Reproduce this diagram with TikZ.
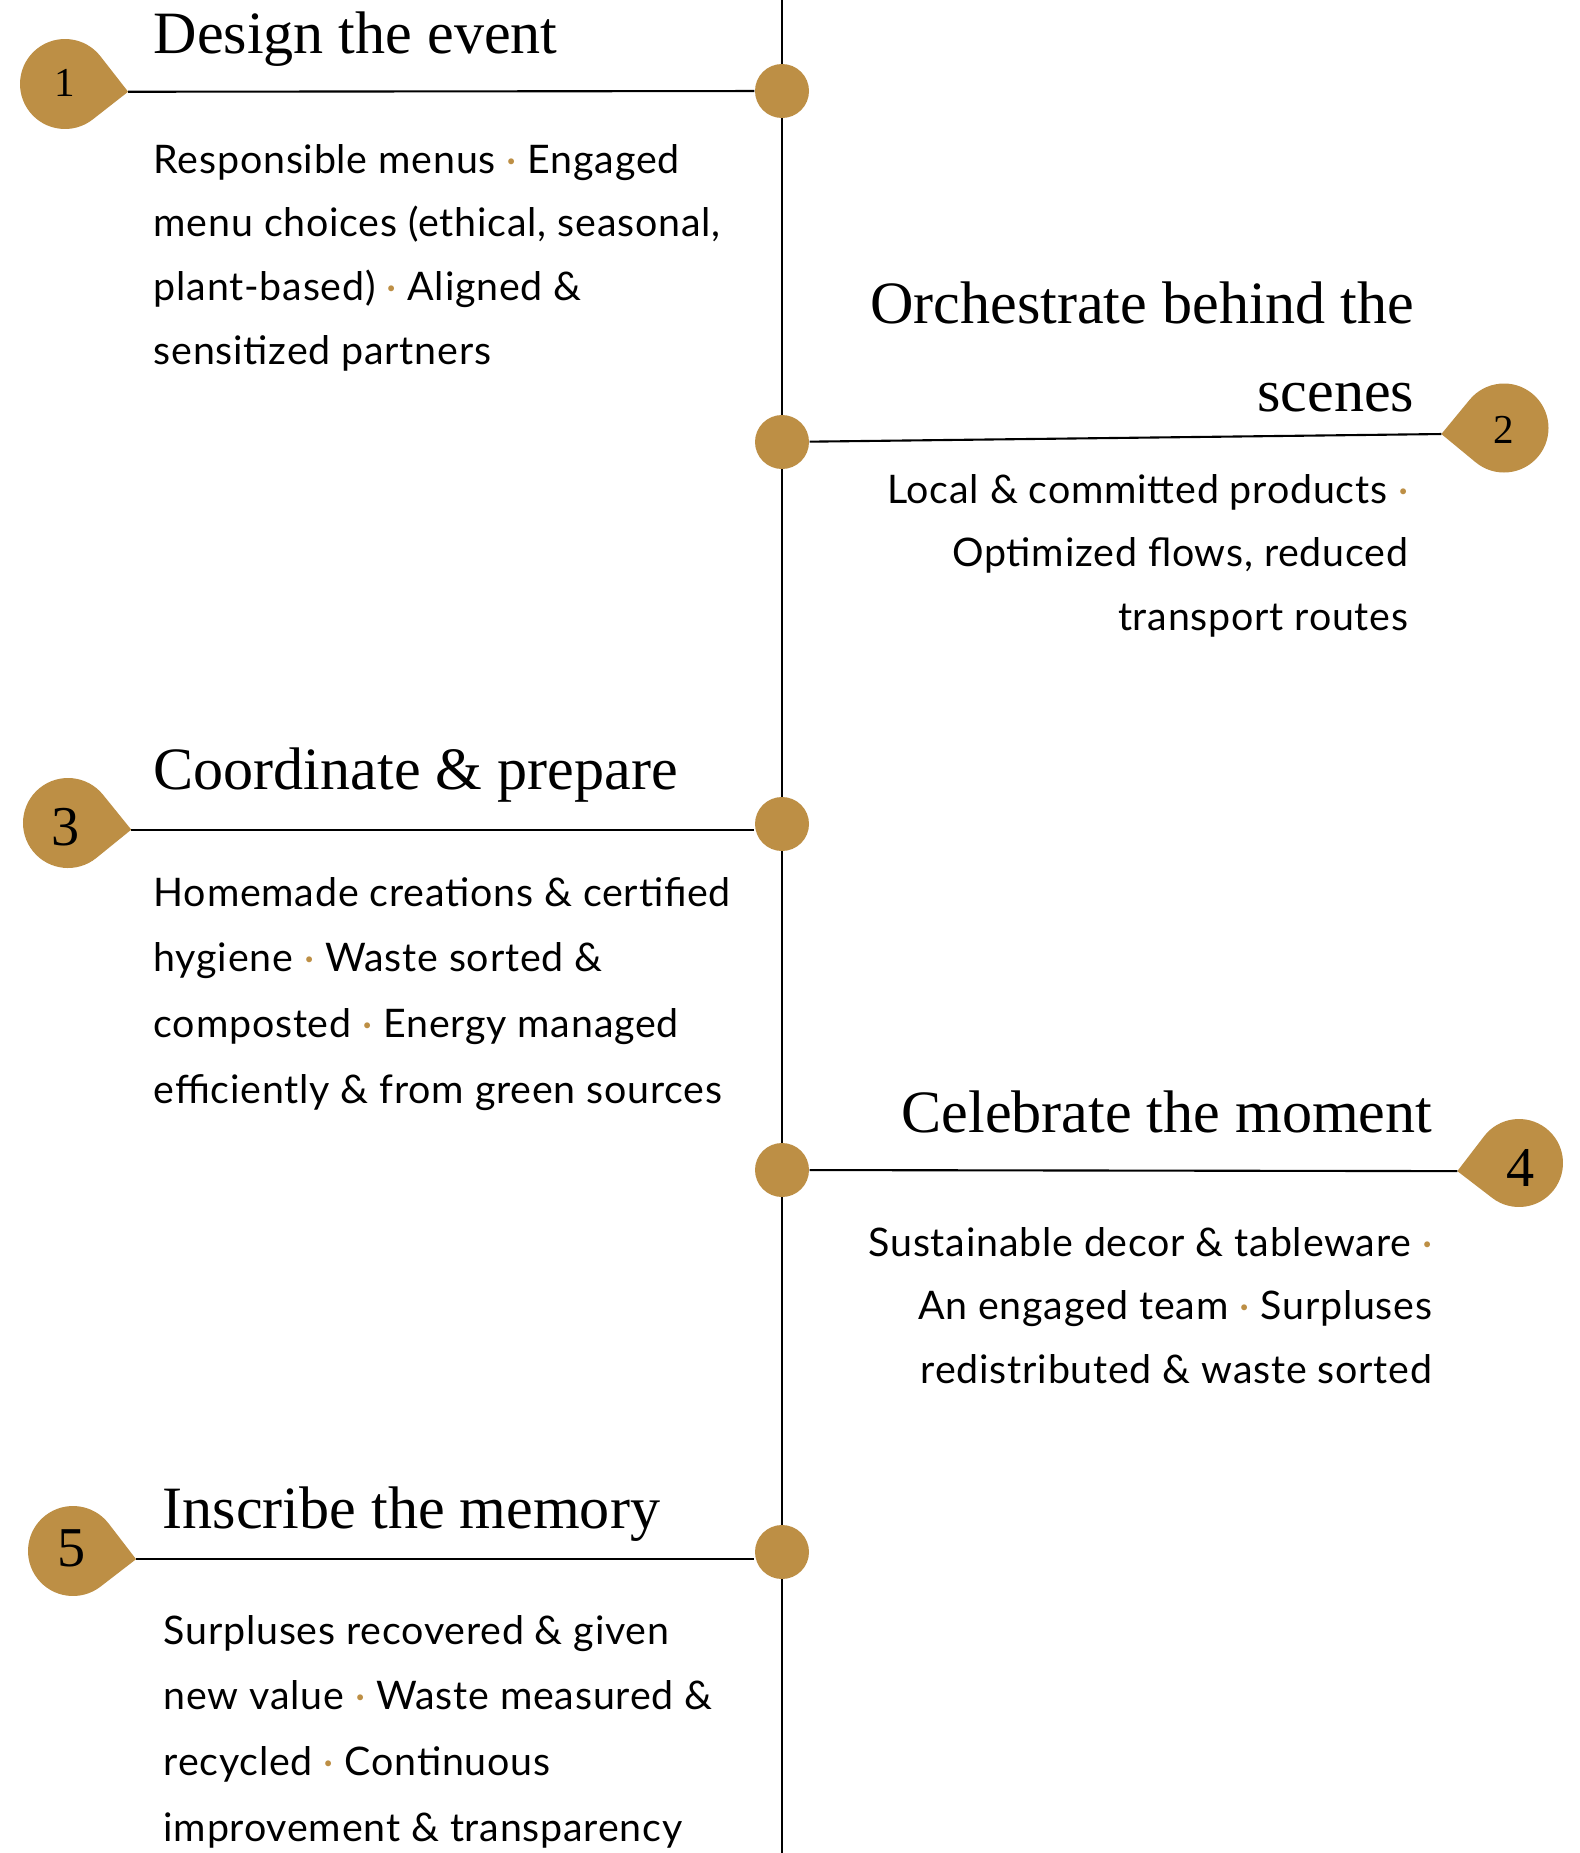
\documentclass[tikz,border=0pt]{standalone}
\usepackage{fontspec}
\setmainfont{Liberation Serif}
\newfontfamily\blurbfont[LetterSpace=2]{Lato}
\usetikzlibrary{calc, positioning}
\definecolor{gold}{HTML}{BD8F45}
\newcommand{\sep}{\textcolor{gold}{·}}
\tikzset{
  vertex/.style={circle, fill=gold, minimum size=0.54cm, inner sep=0pt},
  heading/.style={font=\fontsize{17.1pt}{25.3pt}\selectfont, inner sep=0pt},
  blurb/.style={font=\blurbfont\fontsize{11.2pt}{18.2pt}\selectfont, inner sep=0pt},
  blurbwide/.style={font=\blurbfont\fontsize{11.2pt}{18.7pt}\selectfont, inner sep=0pt},
  numsmall/.style={font=\fontsize{11.7pt}{14pt}\selectfont, inner sep=0pt},
  numbig/.style={font=\fontsize{16pt}{19pt}\selectfont, inner sep=0pt},
  link/.style={line width=0.6pt}
}
\begin{document}
\begin{tikzpicture}

\fill[white] (0,0) rectangle (15.8,-18.53);
\useasboundingbox (0,0) rectangle (15.8,-18.53);

%Timeline
\draw[link] (7.82,0) -- (7.82,-18.53);

%Step 1
\node[vertex] (dot1) at (7.82,-0.91) {};
\coordinate (c1) at (0.65,-0.84);
\fill[gold] ($(c1)+(-7:0.636)$) coordinate (tip1) -- ($(c1)+(38:0.45)$) arc[start angle=38, end angle=308, radius=0.45] -- cycle;
\node[numsmall] (n1) at (0.65,-0.83) {1};
\draw[link] (tip1) -- (dot1);
\node[heading, anchor=base west] (t1) at (1.53,-0.53) {Design the event};
\node[blurb, anchor=base west] (b1) at (1.53,-1.73) {\begin{tabular}[t]{@{}l@{}}Responsible menus \sep{} Engaged\\ menu choices (ethical, seasonal,\\ plant-based) \sep{} Aligned \&\\ sensitized partners\end{tabular}};

%Step 2
\node[vertex] (dot2) at (7.82,-4.42) {};
\coordinate (c2) at (15.04,-4.28);
\fill[gold] ($(c2)+(185.5:0.629)$) coordinate (tip2) -- ($(c2)+(230.5:0.445)$) arc[start angle=230.5, end angle=500.5, radius=0.445] -- cycle;
\node[numsmall] (n2) at (15.04,-4.30) {2};
\draw[link] (dot2) -- (tip2);
\node[heading, anchor=base east] (t2) at (14.15,-3.23) {\begin{tabular}[t]{@{}r@{}}Orchestrate behind the\\ scenes\end{tabular}};
\node[blurb, anchor=base east] (b2) at (14.09,-5.03) {\begin{tabular}[t]{@{}r@{}}Local \& committed products \sep\\ Optimized flows, reduced\\ transport routes\end{tabular}};

%Step 3
\node[vertex] (dot3) at (7.82,-8.24) {};
\coordinate (c3) at (0.68,-8.23);
\fill[gold] ($(c3)+(-6:0.636)$) coordinate (tip3) -- ($(c3)+(39:0.45)$) arc[start angle=39, end angle=309, radius=0.45] -- cycle;
\node[numbig] (n3) at (0.66,-8.27) {3};
\draw[link] (tip3) -- (tip3 -| dot3.west);
\node[heading, anchor=base west] (t3) at (1.53,-7.89) {Coordinate \& prepare};
\node[blurbwide, anchor=base west] (b3) at (1.53,-9.06) {\begin{tabular}[t]{@{}l@{}}Homemade creations \& certified\\ hygiene \sep{} Waste sorted \&\\ composted \sep{} Energy managed\\ efficiently \& from green sources\end{tabular}};

%Step 4
\node[vertex] (dot4) at (7.82,-11.70) {};
\coordinate (c4) at (15.19,-11.63);
\fill[gold] ($(c4)+(187.5:0.622)$) coordinate (tip4) -- ($(c4)+(232.5:0.44)$) arc[start angle=232.5, end angle=502.5, radius=0.44] -- cycle;
\node[numbig] (n4) at (15.21,-11.68) {4};
\draw[link] (dot4) -- (tip4);
\node[heading, anchor=base east] (t4) at (14.33,-11.32) {Celebrate the moment};
\node[blurb, anchor=base east] (b4) at (14.33,-12.56) {\begin{tabular}[t]{@{}r@{}}Sustainable decor \& tableware \sep\\ An engaged team \sep{} Surpluses\\ redistributed \& waste sorted\end{tabular}};

%Step 5
\node[vertex] (dot5) at (7.82,-15.52) {};
\coordinate (c5) at (0.73,-15.51);
\fill[gold] ($(c5)+(-7.4:0.636)$) coordinate (tip5) -- ($(c5)+(37.6:0.45)$) arc[start angle=37.6, end angle=307.6, radius=0.45] -- cycle;
\node[numbig] (n5) at (0.72,-15.48) {5};
\draw[link] (tip5) -- (tip5 -| dot5.west);
\node[heading, anchor=base west] (t5) at (1.62,-15.28) {Inscribe the memory};
\node[blurbwide, anchor=base west] (b5) at (1.63,-16.44) {\begin{tabular}[t]{@{}l@{}}Surpluses recovered \& given\\ new value \sep{} Waste measured \&\\ recycled \sep{} Continuous\\ improvement \& transparency\end{tabular}};

\end{tikzpicture}
\end{document}
